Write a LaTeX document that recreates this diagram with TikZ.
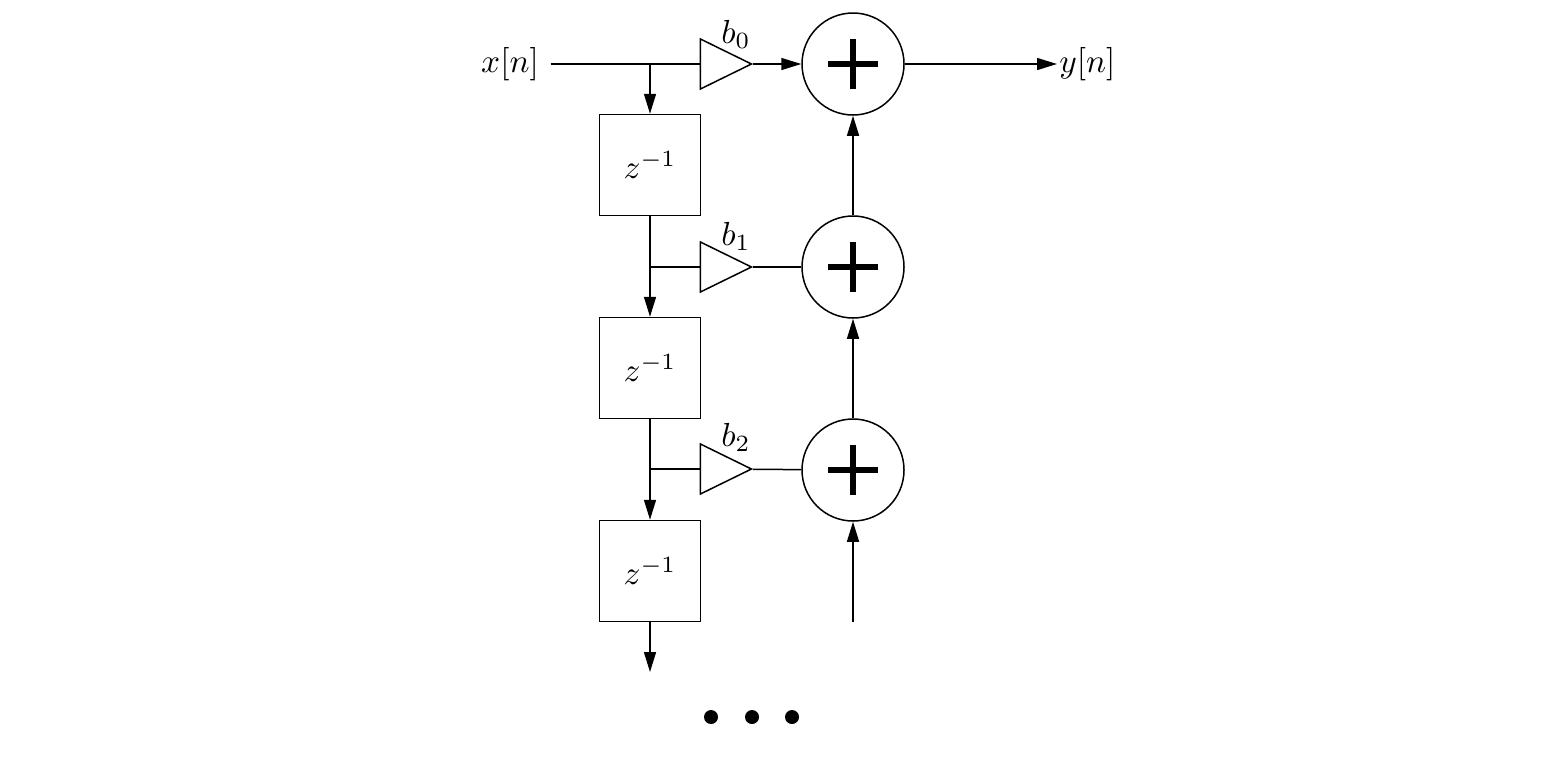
\documentclass[tikz,border=0pt]{standalone}
\usetikzlibrary{shapes.geometric}
\usetikzlibrary{arrows.meta}

\tikzset{
  delay/.style={draw, minimum size=30.3pt, inner sep=0pt},
  gain/.style={draw, isosceles triangle, isosceles triangle stretches,
    minimum width=15pt, minimum height=15.3pt, inner sep=0pt},
  adder/.style={draw, circle, minimum size=30.6pt, inner sep=0pt,
    path picture={
      \draw[line width=1.6pt] (path picture bounding box.center) ++(-7.5pt,0) -- ++(15pt,0)
        (path picture bounding box.center) ++(0,-7.5pt) -- ++(0,15pt);}},
  sig/.style={-{Triangle[length=6pt,width=3.6pt]}}
}

\begin{document}
\begin{tikzpicture}[x=0.3pt,y=-0.3pt,line width=0.45pt]
  \useasboundingbox (0,0) rectangle (1564,761);

  % input and output
  \node (xin) at (510,64) {$x[n]$};
  \node (yout) [anchor=west, inner sep=0.5pt] at (1057,64) {$y[n]$};

  % delay line
  \node (d1) [delay] at (650,165) {$z^{-1}$};
  \node (d2) [delay] at (650,368) {$z^{-1}$};
  \node (d3) [delay] at (650,571) {$z^{-1}$};
  \coordinate (s0) at (650,64);
  \coordinate (s1) at (650,267);
  \coordinate (s2) at (650,469);
  \coordinate (dend) at (650,672);

  % taps
  \node (g0) [gain] at (716,64) {};
  \node (g1) [gain] at (716,267) {};
  \node (g2) [gain] at (716,469) {};
  \node (b0) at (736,34) {$b_0$};
  \node (b1) at (736,236) {$b_1$};
  \node (b2) at (736,437) {$b_2$};

  % adders
  \node (a0) [adder] at (853,64) {};
  \node (a1) [adder] at (853,267) {};
  \node (a2) [adder] at (853,470) {};
  \coordinate (aend) at (853,622);

  \draw (xin) -- (g0);
  \draw[sig] (s0) -- (d1);
  \draw[sig] (g0) -- (a0);
  \draw[sig] (a0) -- (yout);

  \draw[sig] (d1) -- (d2);
  \draw (s1) -- (g1);
  \draw (g1) -- (a1);
  \draw[sig] (a1) -- (a0);

  \draw[sig] (d2) -- (d3);
  \draw (s2) -- (g2);
  \draw (g2) -- (a2);
  \draw[sig] (a2) -- (a1);

  \draw[sig] (d3) -- (dend);
  \draw[sig] (aend) -- (a2);

  \foreach \x in {711,752,792}
    \fill (\x,717) circle (2.1pt);
\end{tikzpicture}
\end{document}
